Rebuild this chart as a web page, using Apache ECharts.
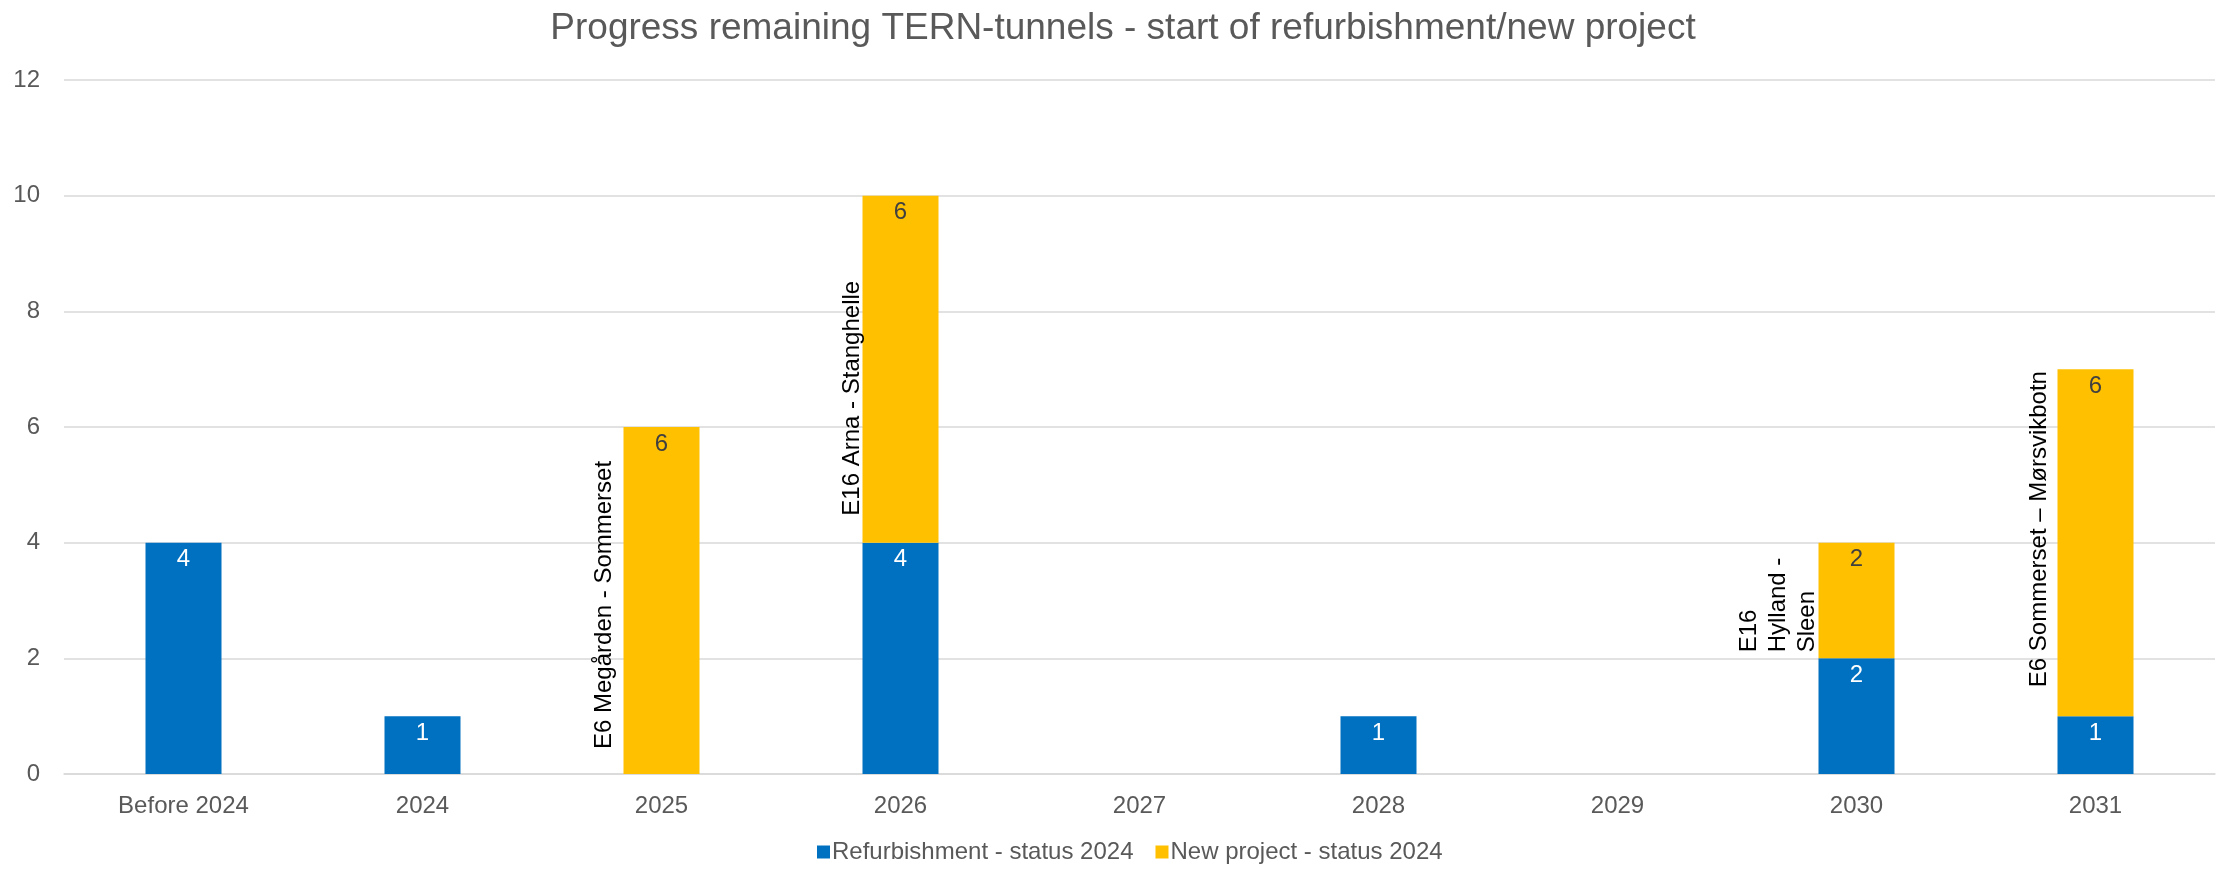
<!DOCTYPE html>
<html>
<head>
<meta charset="utf-8">
<script src="https://cdn.jsdelivr.net/npm/echarts@6/dist/echarts.min.js"></script>
<style>html,body{margin:0;padding:0;background:#fff}#c{width:2226px;height:871px}</style>
</head>
<body>
<div id="c"></div>
<script>
const titleText = 'Progress remaining TERN-tunnels - start of refurbishment/new project';
const categories = ['Before 2024', '2024', '2025', '2026', '2027', '2028', '2029', '2030', '2031'];
const refurbishment = [4, 1, 0, 4, 0, 1, 0, 2, 1];
const newProject = [0, 0, 6, 6, 0, 0, 0, 2, 6];
const projectNames = ['', '', 'E6 Megården - Sommerset', 'E16 Arna - Stanghelle', '', '', '', 'E16\nHylland -\nSleen', 'E6 Sommerset – Mørsvikbotn'];
const yTicks = { min: 0, max: 12, interval: 2 };

const FONT = 'Liberation Sans, Arial, sans-serif';
// offsets are in the rotated label frame
const nameOffsets = { 2: [25, -5], 3: [27, 4], 7: [6, 3], 8: [29, -4] };

const BAR_W = 76;
const valueLabel = (color) => ({
  show: true, position: 'insideTop', distance: 5, color: color, fontSize: 24, fontFamily: FONT
});

const refData = refurbishment.map(v => v === 0 ? '-' : v);
const newData = newProject.map(v => v === 0 ? '-' : v);
const annotBase = refurbishment.map((v, i) => projectNames[i] ? v : '-');
const annotData = newProject.map((v, i) => {
  if (!projectNames[i]) return '-';
  return {
    value: v,
    label: {
      show: true,
      position: ['0%', '100%'],
      offset: nameOffsets[i],
      rotate: 90,
      align: 'left',
      verticalAlign: 'bottom',
      color: '#000000',
      fontSize: 24,
      lineHeight: 29,
      fontFamily: FONT,
      formatter: projectNames[i]
    }
  };
});

const chart = echarts.init(document.getElementById('c'), null, { renderer: 'canvas' });
chart.setOption({
  animation: false,
  backgroundColor: '#ffffff',
  title: {
    text: titleText,
    left: 1118,
    textAlign: 'center',
    top: 5,
    textStyle: { fontFamily: FONT, fontSize: 37, fontWeight: 'normal', color: '#595959' }
  },
  legend: {
    bottom: 2,
    left: 812,
    itemWidth: 13,
    itemHeight: 13,
    itemGap: 22,
    icon: 'rect',
    textStyle: { fontFamily: FONT, fontSize: 24, color: '#595959', padding: [0, 0, 0, -3] },
    data: ['Refurbishment - status 2024', 'New project - status 2024']
  },
  grid: { left: 64, right: 11, top: 80, bottom: 97, containLabel: false },
  xAxis: {
    type: 'category',
    data: categories,
    axisTick: { show: false },
    axisLine: { lineStyle: { color: '#d9d9d9', width: 1.5 } },
    axisLabel: { fontFamily: FONT, fontSize: 24, color: '#595959', margin: 20 }
  },
  yAxis: {
    type: 'value',
    min: yTicks.min, max: yTicks.max, interval: yTicks.interval,
    axisLine: { show: false },
    axisTick: { show: false },
    splitLine: { lineStyle: { color: '#d9d9d9', width: 1.5 } },
    axisLabel: { fontFamily: FONT, fontSize: 24, color: '#595959', margin: 24 }
  },
  series: [
    {
      name: 'Refurbishment - status 2024',
      type: 'bar', stack: 'a', barWidth: BAR_W, barGap: '-100%',
      itemStyle: { color: '#0070C0' },
      label: valueLabel('#ffffff'),
      data: refData
    },
    {
      name: 'New project - status 2024',
      type: 'bar', stack: 'a', barWidth: BAR_W, barGap: '-100%',
      itemStyle: { color: '#FFC000' },
      label: valueLabel('#404040'),
      data: newData
    },
    {
      name: 'annotBase',
      type: 'bar', stack: 'b', barWidth: BAR_W, barGap: '-100%',
      itemStyle: { color: 'rgba(0,0,0,0)' },
      silent: true,
      label: { show: false },
      data: annotBase
    },
    {
      name: 'annotations',
      type: 'bar', stack: 'b', barWidth: BAR_W, barGap: '-100%',
      itemStyle: { color: 'rgba(0,0,0,0)' },
      silent: true,
      data: annotData,
      z: 3
    }
  ]
});
</script>
</body>
</html>
